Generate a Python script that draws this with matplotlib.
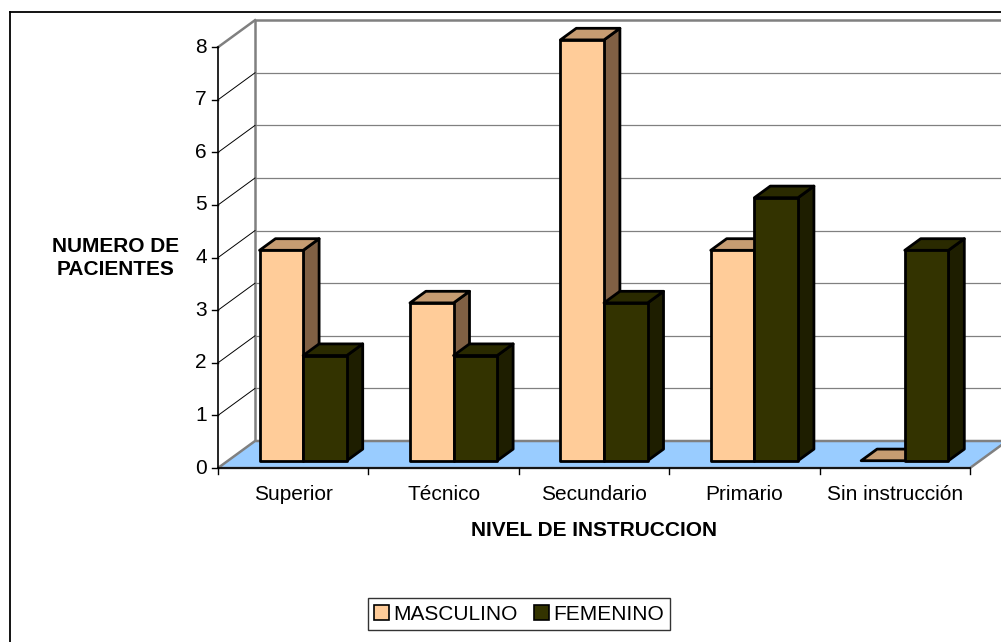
import matplotlib
matplotlib.use("Agg")
import matplotlib.pyplot as plt
from matplotlib.patches import Polygon, Patch
from matplotlib.lines import Line2D

plt.rcParams['font.family'] = ['Liberation Sans', 'DejaVu Sans']

# data
categories = ['Superior', 'Técnico', 'Secundario', 'Primario', 'Sin instrucción']
masculino = [4, 3, 8, 4, 0]
femenino = [2, 2, 3, 5, 4]
y_ticks = [0, 1, 2, 3, 4, 5, 6, 7, 8]
series_names = ['MASCULINO', 'FEMENINO']

# oblique projection of the depth axis (in data units)
OX = 37 / 150.4
OY = 27 / 52.6
BAR_W = 0.29
D0, D1 = 0.27, 0.70
FS = 15

masc_cols = ('#FFCC99', '#C69C72', '#806044')   # front, top, side
fem_cols = ('#333300', '#2A2A00', '#1E1E00')


def proj(x, v, d):
    return (x + d * OX, v + d * OY)


fig = plt.figure(figsize=(10.01, 6.42), dpi=100)
ax = fig.add_axes([0, 0, 1, 1])
ax.set_xlim(-218 / 150.4, (1001 - 218) / 150.4)
ax.set_ylim((468 - 642) / 52.6, 468 / 52.6)
ax.axis('off')

n = len(categories)
ymax = y_ticks[-1]
gray = '#808080'

# back wall
wall = [proj(0, 0, 1), proj(n, 0, 1), proj(n, ymax, 1), proj(0, ymax, 1)]
ax.add_patch(Polygon(wall, closed=True, facecolor='white', edgecolor=gray, lw=1.8, zorder=1))
for t in y_ticks[1:-1]:
    ax.plot(*zip(proj(0, t, 1), proj(n, t, 1)), color=gray, lw=0.9, zorder=2)
    ax.plot(*zip(proj(0, t, 0), proj(0, t, 1)), color='black', lw=0.7, zorder=2)
ax.plot(*zip(proj(0, ymax, 0), proj(0, ymax, 1)), color=gray, lw=1.8, zorder=2)

# floor
floor = [proj(0, 0, 0), proj(n, 0, 0), proj(n, 0, 1), proj(0, 0, 1)]
ax.add_patch(Polygon(floor, closed=True, facecolor='#99CCFF', edgecolor=gray, lw=1.8, zorder=3))

# axes lines
ax.plot([0, 0], [0, ymax], color='black', lw=1.2, zorder=4)
ax.plot([0, n], [0, 0], color='black', lw=1.2, zorder=4)
for t in y_ticks:
    ax.plot([-0.04, 0], [t, t], color='black', lw=1.0, zorder=4)
    ax.text(-0.075, t, str(t), ha='right', va='center', fontsize=FS)
for i in range(n + 1):
    ax.plot([i, i], [0, -0.12], color='black', lw=1.0, zorder=4)
for i, c in enumerate(categories):
    ax.text(i + 0.5, -0.5, c, ha='center', va='center', fontsize=FS)


def bar3d(x0, x1, h, cols):
    front, top, side = cols
    kw = dict(closed=True, edgecolor='black', lw=2.0, joinstyle='round', zorder=5)
    top_poly = [proj(x0, h, D0), proj(x1, h, D0), proj(x1, h, D1), proj(x0, h, D1)]
    if h > 0:
        side_poly = [proj(x1, 0, D0), proj(x1, 0, D1), proj(x1, h, D1), proj(x1, h, D0)]
        ax.add_patch(Polygon(side_poly, facecolor=side, **kw))
        ax.add_patch(Polygon(top_poly, facecolor=top, **kw))
        front_poly = [proj(x0, 0, D0), proj(x1, 0, D0), proj(x1, h, D0), proj(x0, h, D0)]
        ax.add_patch(Polygon(front_poly, facecolor=front, **kw))
    else:
        ax.add_patch(Polygon(top_poly, facecolor=top, **kw))


for i in range(n):
    c = i + 0.5
    bar3d(c - BAR_W, c, masculino[i], masc_cols)
    bar3d(c, c + BAR_W, femenino[i], fem_cols)

# axis titles
ax.text((116 - 218) / 150.4, 3.99, 'NUMERO DE\nPACIENTES', ha='center', va='center',
        fontsize=FS, fontweight='bold', linespacing=1.3)
ax.text(2.5, (468 - 530) / 52.6, 'NIVEL DE INSTRUCCION', ha='center', va='center',
        fontsize=FS, fontweight='bold')

# outer frame
fig.add_artist(Line2D([9.5 / 1001, 9.5 / 1001], [0, 1 - 12 / 642], color='black', lw=1.3,
                      transform=fig.transFigure))
fig.add_artist(Line2D([9.5 / 1001, 1], [1 - 12 / 642, 1 - 12 / 642], color='black', lw=1.3,
                      transform=fig.transFigure))

# legend
handles = [Patch(facecolor=masc_cols[0], edgecolor='black', lw=1.2),
           Patch(facecolor=fem_cols[0], edgecolor='black', lw=1.2)]
leg = fig.legend(handles, series_names, loc='center', bbox_to_anchor=(519 / 1001, 1 - 614 / 642),
                 ncol=2, fontsize=FS, frameon=True, fancybox=False, edgecolor='black',
                 handlelength=0.7, handleheight=0.7, handletextpad=0.2, columnspacing=0.8,
                 borderpad=0.3, borderaxespad=0)
leg.get_frame().set_linewidth(1.0)

fig.savefig('out.png', dpi=100)
